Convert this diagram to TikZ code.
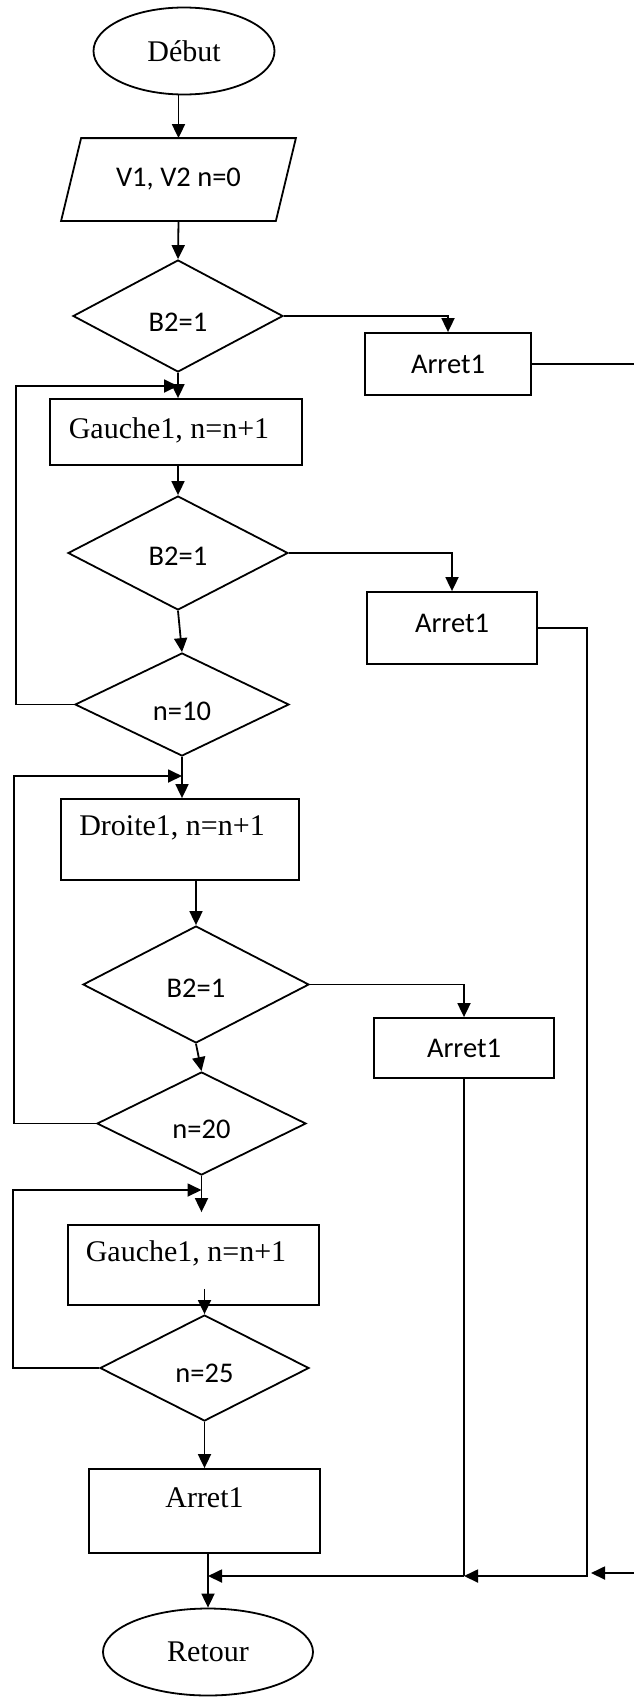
\documentclass[tikz,border=0pt]{standalone}
\usepackage{fontspec}
\setmainfont{Liberation Serif}
\newfontfamily\carlito{Carlito}
\usetikzlibrary{shapes.geometric,arrows.meta,calc}
\begin{document}
\begin{tikzpicture}[x=1pt,y=-1pt, line width=1.8pt,
  arr/.style={-{Triangle[length=14pt,width=13pt]}},
  box/.style={draw, rectangle, inner sep=0pt},
  dia/.style={draw, diamond, inner sep=0pt},
  oval/.style={draw, ellipse, inner sep=0pt},
  serif/.style={font=\fontsize{30}{36}\selectfont},
  sans/.style={font=\carlito\fontsize{28.5}{34}\selectfont}]
\useasboundingbox (0,0) rectangle (634,1697);

% nodes
\node[oval, minimum width=181pt, minimum height=87pt, serif] (debut) at (184,51) {Début};
\node[minimum width=213pt, minimum height=81pt, inner sep=0pt, sans] (par) at (178.5,179.5) {V1, V2 n=0};
\draw ([xshift=10pt]par.north west) -- ([xshift=10pt]par.north east) -- ([xshift=-10pt]par.south east) -- ([xshift=-10pt]par.south west) -- cycle;

\node[dia, minimum width=210pt, minimum height=112pt, label={[sans,yshift=-6pt]center:{B2=1}}] (d1) at (178,316) {};
\node[box, minimum width=166pt, minimum height=62pt, sans] (a1) at (448,364) {Arret1};
\node[box, minimum width=252pt, minimum height=66pt, label={[serif,xshift=-7pt,yshift=2pt]center:{Gauche1, n=n+1}}] (g1) at (176,432) {};
\node[dia, minimum width=220pt, minimum height=114pt, label={[sans,yshift=-3pt]center:{B2=1}}] (d2) at (178,553) {};
\node[box, minimum width=170pt, minimum height=72pt, label={[sans,yshift=5pt]center:{Arret1}}] (a2) at (452,628) {};
\node[dia, minimum width=214pt, minimum height=103pt, label={[sans,yshift=-6.5pt]center:{n=10}}] (d3) at (182,704.5) {};
\node[box, minimum width=238pt, minimum height=81pt, label={[serif,xshift=-8pt,yshift=11.5pt]center:{Droite1, n=n+1}}] (dr) at (180,839.5) {};
\node[dia, minimum width=226pt, minimum height=117pt, label={[sans,yshift=-3.5pt]center:{B2=1}}] (d4) at (196,984.5) {};
\node[box, minimum width=180pt, minimum height=60pt, sans] (a3) at (464,1048) {Arret1};
\node[dia, minimum width=209pt, minimum height=103pt, label={[sans,yshift=-5.5pt]center:{n=20}}] (d5) at (201.5,1123.5) {};
\node[box, minimum width=251pt, minimum height=80pt, label={[serif,xshift=-7.5pt,yshift=12pt]center:{Gauche1, n=n+1}}] (g2) at (193.5,1265) {};
\node[dia, minimum width=209pt, minimum height=106pt, label={[sans,yshift=-5pt]center:{n=25}}] (d6) at (204.5,1368) {};
\node[box, minimum width=231pt, minimum height=84pt, label={[serif,yshift=13pt]center:{Arret1}}] (a4) at (204.5,1511) {};
\node[oval, minimum width=210pt, minimum height=87pt, serif] (ret) at (208,1652) {Retour};

% coordinates
\coordinate (l1) at (16,386);
\coordinate (l2) at (14,776);
\coordinate (l3) at (13,1190);
\coordinate (e1) at (634,361);
\coordinate (e2) at (634,1573);
\coordinate (m0) at (587,1576);

% main flow
\draw[arr] (par.north |- debut.south) -- (par.north);
\draw[arr] (par.south) -- (d1.north);
\draw[arr] (d1.south) -- (d1.south |- g1.north);
\draw[arr] (g1.south -| d2.north) -- (d2.north);
\draw[arr] (d2.south) -- (d3.north);
\draw[arr] (d3.south) -- (d3.south |- dr.north);
\draw[arr] (dr.south -| d4.north) -- (d4.north);
\draw[arr] (d4.south) -- (d5.north);
\draw[arr] (d5.south) -- ($(d5.south |- g2.north)+(0,-12)$);
\draw[arr] ($(g2.south -| d6.north)+(0,-17)$) -- (d6.north);
\draw[arr] (d6.south) -- (d6.south |- a4.north);
\draw[arr] (a4.south -| ret.north) -- (ret.north);

% branches to Arret1
\draw[arr] (d1.east) -| (a1.north);
\draw[arr] (d2.east) -| (a2.north);
\draw[arr] (d4.east) -| (a3.north);

% loops
\draw[arr] (d3.west) -| (l1) -- (l1 -| d1.south);
\draw[arr] (d5.west) -| (l2) -- (l2 -| d3.south);
\draw[arr] (d6.west) -| (l3) -- (l3 -| d5.south);

% merge lines
\draw (a1.east) -- (a1.east -| e1);
\draw[arr] (a2.east) -- (a2.east -| m0) -- (m0) -- (a3.south |- m0);
\draw (a3.south) -- (a3.south |- m0);
\draw[arr] (a3.south |- m0) -- (m0 -| ret.north);
\draw[arr] (e2) -- ($(e2 -| m0)+(4,0)$);
\end{tikzpicture}
\end{document}
